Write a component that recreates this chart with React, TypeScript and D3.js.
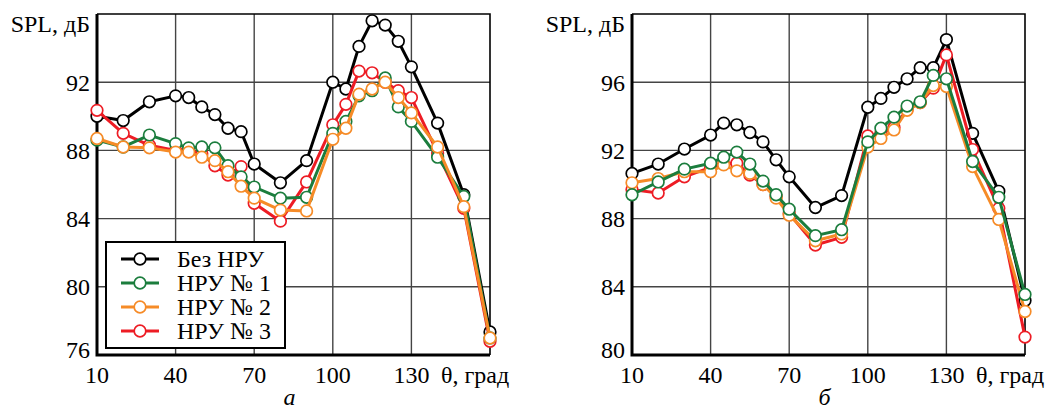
import React, { useEffect, useRef } from 'react';
import * as d3 from 'd3';

// углы, град
const angles = [10, 20, 30, 40, 45, 50, 55, 60, 65, 70, 80, 90, 100, 105, 110, 115, 120, 125, 130, 140, 150, 160];
const xTicks = [10, 40, 70, 100, 130];

const seriesNames = ['Без НРУ', 'НРУ № 1', 'НРУ № 2', 'НРУ № 3'];
const seriesColors = ['#000000', '#1b7d3d', '#f68b27', '#ed1c24'];

// панель а
const yTicksA = [76, 80, 84, 88, 92, 96];
const noNruA = [90.0, 89.75, 90.85, 91.2, 91.1, 90.55, 90.1, 89.3, 89.1, 87.2, 86.1, 87.4, 92.0, 91.6, 94.1, 95.6, 95.35, 94.4, 92.9, 89.6, 85.4, 77.35];
const nru1A = [88.6, 88.2, 88.9, 88.4, 88.15, 88.2, 88.15, 87.1, 86.45, 85.85, 85.2, 85.25, 89.0, 89.7, 91.2, 91.5, 92.25, 90.55, 89.7, 87.6, 85.3, 77.0];
const nru2A = [88.7, 88.2, 88.15, 87.9, 87.9, 87.6, 87.4, 86.75, 85.9, 85.2, 84.5, 84.45, 88.65, 89.3, 91.3, 91.6, 92.0, 91.1, 90.2, 88.2, 84.7, 77.0];
const nru3A = [90.35, 89.0, 88.3, 88.0, 88.0, 87.8, 87.1, 86.55, 87.05, 84.9, 83.85, 86.15, 89.5, 90.7, 92.65, 92.55, 92.0, 91.5, 91.1, 87.85, 84.6, 76.8];

// панель б
const yTicksB = [80, 84, 88, 92, 96, 100];
const noNruB = [90.65, 91.2, 92.08, 92.9, 93.6, 93.5, 93.05, 92.5, 91.45, 90.45, 88.65, 89.35, 94.53, 95.05, 95.7, 96.2, 96.85, 96.85, 98.5, 93.0, 89.6, 83.2];
const nru1B = [89.4, 90.15, 90.9, 91.25, 91.6, 91.9, 91.2, 90.2, 89.4, 88.55, 87.0, 87.35, 92.5, 93.3, 93.95, 94.6, 94.85, 96.4, 96.2, 91.35, 89.25, 83.55];
const nru2B = [90.1, 90.35, 90.75, 90.75, 91.15, 90.8, 90.65, 90.0, 89.2, 88.2, 86.7, 87.1, 92.2, 92.7, 93.2, 94.35, 94.8, 95.8, 95.75, 91.05, 87.95, 82.55];
const nru3B = [89.7, 89.5, 90.45, 91.0, 91.2, 91.25, 90.55, 90.0, 89.3, 88.3, 86.45, 86.9, 92.85, 93.0, 93.35, 94.4, 94.8, 95.65, 97.6, 92.05, 88.6, 81.05];

const FONT = 'Liberation Serif, Times New Roman, serif';

const App = () => {
  const svgRef = useRef<SVGSVGElement>(null);

  useEffect(() => {
    const svg = d3.select(svgRef.current);
    svg.selectAll('*').remove();

    const top = 14;
    const bottom = 355;

    const addText = (g, x, y, txt, anchor = 'start') =>
      g
        .append('text')
        .attr('x', x)
        .attr('y', y)
        .attr('text-anchor', anchor)
        .attr('font-family', FONT)
        .attr('font-size', 24)
        .attr('fill', '#000')
        .text(txt);

    const panels = [
      { x0: 97, x1: 490, yTicks: yTicksA, values: [noNruA, nru1A, nru2A, nru3A], order: [0, 3, 1, 2], caption: 'а', legend: true },
      { x0: 632, x1: 1025, yTicks: yTicksB, values: [noNruB, nru1B, nru2B, nru3B], order: [0, 3, 2, 1], caption: 'б', legend: false },
    ];

    panels.forEach((p) => {
      const g = svg.append('g');
      const x = d3.scaleLinear().domain([10, 160]).range([p.x0, p.x1]);
      const y = d3
        .scaleLinear()
        .domain([p.yTicks[0], p.yTicks[p.yTicks.length - 1]])
        .range([bottom, top]);

      // сетка
      g.selectAll('.vgrid')
        .data(xTicks.slice(1))
        .join('line')
        .attr('x1', (d) => x(d))
        .attr('x2', (d) => x(d))
        .attr('y1', top)
        .attr('y2', bottom)
        .attr('stroke', '#444')
        .attr('stroke-width', 1.4);
      g.selectAll('.hgrid')
        .data(p.yTicks.slice(1, -1))
        .join('line')
        .attr('x1', p.x0)
        .attr('x2', p.x1)
        .attr('y1', (d) => y(d))
        .attr('y2', (d) => y(d))
        .attr('stroke', '#444')
        .attr('stroke-width', 1.4);

      // рамка
      g.append('path')
        .attr('d', `M${p.x0},${top}H${p.x1}V${bottom}`)
        .attr('fill', 'none')
        .attr('stroke', '#000')
        .attr('stroke-width', 1.6);
      g.append('path')
        .attr('d', `M${p.x0},${top}V${bottom}H${p.x1}`)
        .attr('fill', 'none')
        .attr('stroke', '#000')
        .attr('stroke-width', 3);

      // подписи осей
      p.yTicks.slice(0, -1).forEach((d, i) => {
        addText(g, p.x0 - 7, y(d) + (i === 0 ? -5 : 0), d, 'end').attr('dy', '0.35em');
      });
      xTicks.forEach((d) => addText(g, x(d), 383, d, 'middle'));
      addText(g, p.x1 - 49, 383, 'θ, град');
      addText(g, p.x0 - 7, 32, 'SPL, дБ', 'end');
      addText(g, (p.x0 + p.x1) / 2 - 4, 405, p.caption, 'middle').attr('font-style', 'italic');

      // линии
      const line = d3
        .line<number>()
        .x((d, i) => x(angles[i]))
        .y((d) => y(d));

      p.order.forEach((si) => {
        const vals = p.values[si];
        g.append('path')
          .attr('d', line(vals))
          .attr('fill', 'none')
          .attr('stroke', seriesColors[si])
          .attr('stroke-width', 3)
          .attr('stroke-linejoin', 'round');
        g.selectAll(`.pt${si}`)
          .data(vals)
          .join('circle')
          .attr('cx', (d, i) => x(angles[i]))
          .attr('cy', (d) => y(d))
          .attr('r', 5.8)
          .attr('fill', '#fff')
          .attr('stroke', seriesColors[si])
          .attr('stroke-width', 1.7);
      });

      // легенда
      if (p.legend) {
        const lg = g.append('g');
        lg.append('rect')
          .attr('x', 106)
          .attr('y', 242)
          .attr('width', 179)
          .attr('height', 106)
          .attr('fill', '#fff')
          .attr('stroke', '#000')
          .attr('stroke-width', 2);
        seriesNames.forEach((name, i) => {
          const cy = 259 + i * 24;
          lg.append('line')
            .attr('x1', 121)
            .attr('x2', 159)
            .attr('y1', cy)
            .attr('y2', cy)
            .attr('stroke', seriesColors[i])
            .attr('stroke-width', 3);
          lg.append('circle')
            .attr('cx', 140)
            .attr('cy', cy)
            .attr('r', 5.8)
            .attr('fill', '#fff')
            .attr('stroke', seriesColors[i])
            .attr('stroke-width', 1.7);
          addText(lg, 177, cy, name).attr('dy', '0.35em');
        });
      }
    });
  }, []);

  return (
    <div style={{ position: 'absolute', left: 0, top: 0 }}>
      <svg ref={svgRef} width={1051} height={412} style={{ display: 'block', background: '#fff' }}></svg>
    </div>
  );
};

export default App;
